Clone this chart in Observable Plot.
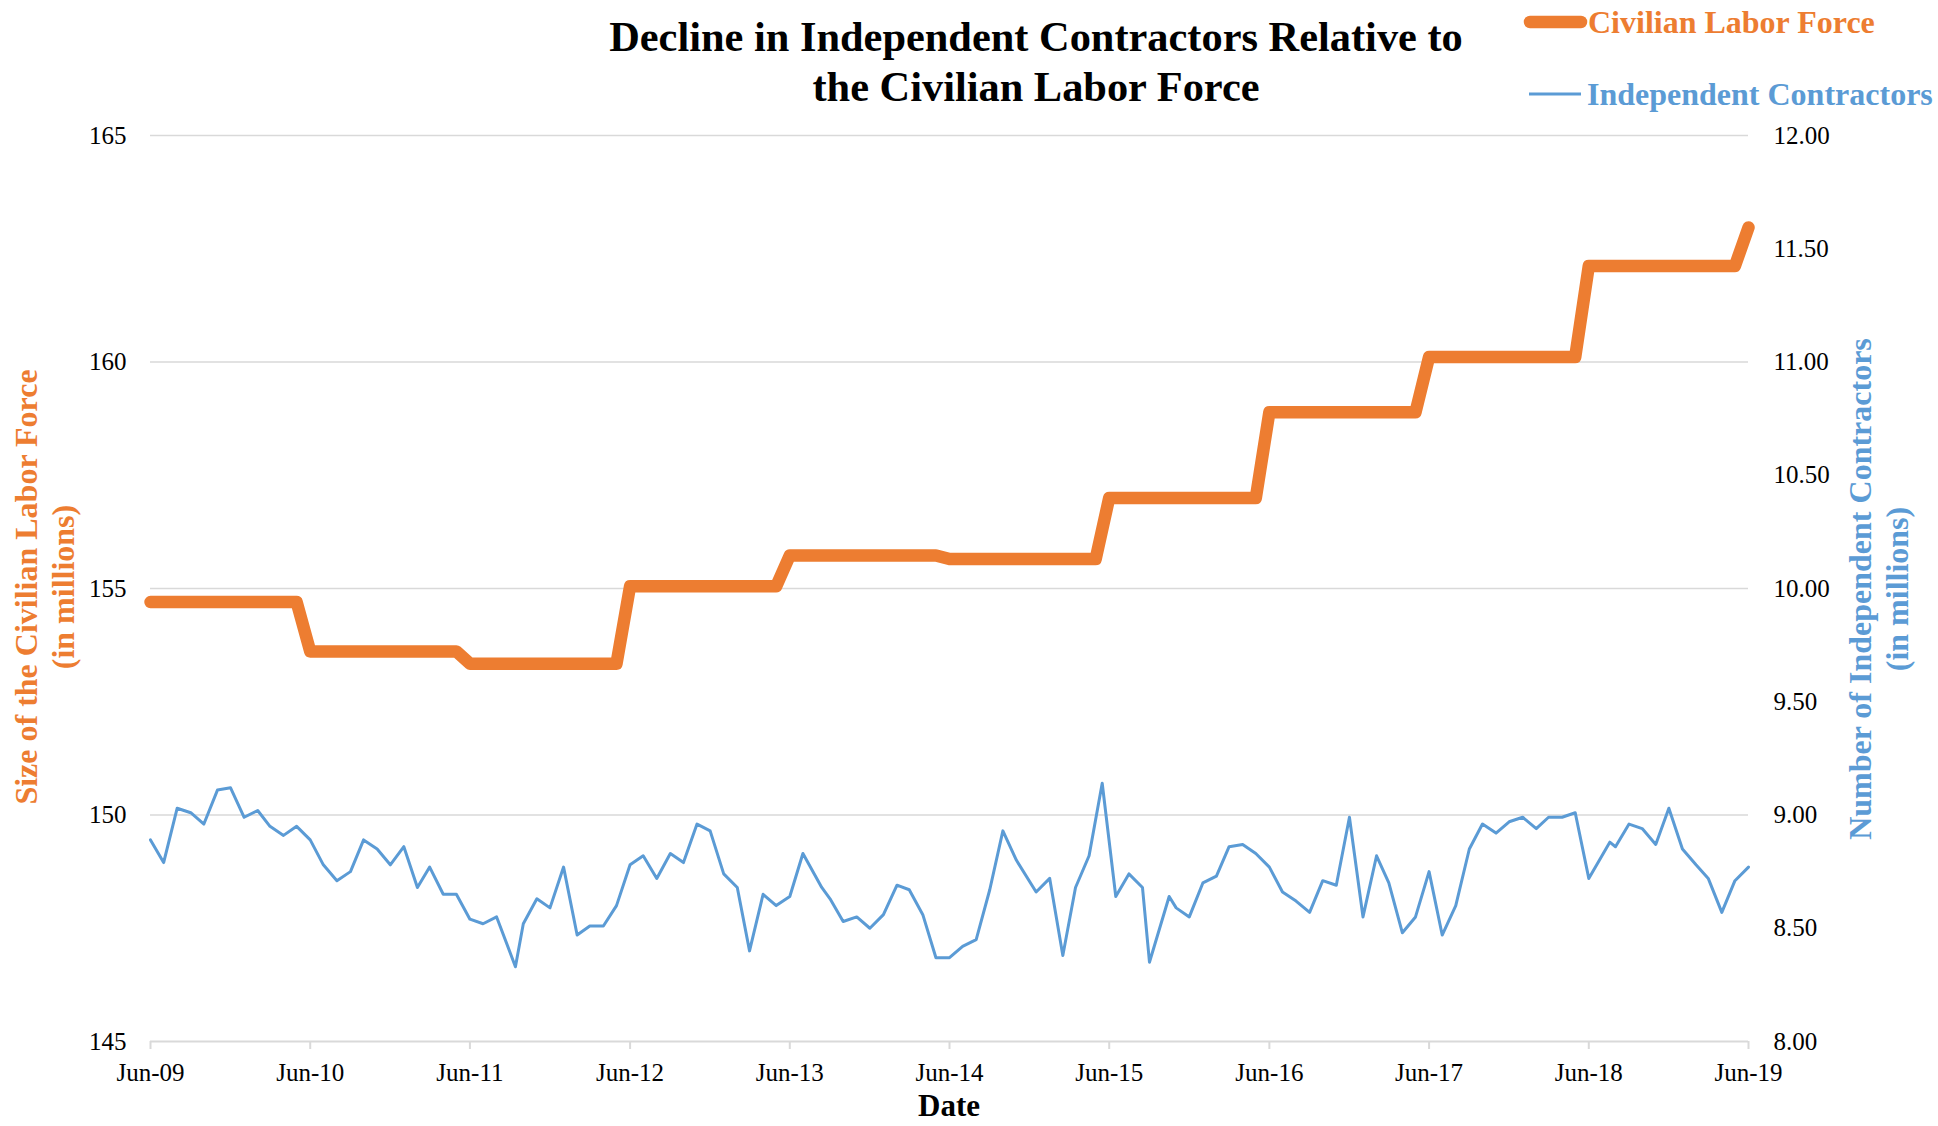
<!DOCTYPE html>
<html>
<head>
<meta charset="utf-8">
<script src="https://cdn.jsdelivr.net/npm/d3@7"></script>
<script src="https://cdn.jsdelivr.net/npm/@observablehq/plot@0.6"></script>
<style>
  html, body { margin: 0; padding: 0; background: #fff; }
  #wrap { position: relative; width: 1938px; height: 1126px; overflow: hidden; font-family: "Liberation Serif", "Times New Roman", serif; }
  #wrap svg.plot { position: absolute; left: 0; top: 0; }
  .title { position: absolute; left: 1036px; top: 12px; transform: translateX(-50%); font-size: 42.4px; font-weight: bold; line-height: 50px; text-align: center; white-space: nowrap; color: #000; }
  .ytitle { position: absolute; font-size: 32px; font-weight: bold; line-height: 37px; text-align: center; white-space: nowrap; transform: translate(-50%, -50%) rotate(-90deg); }
  .xtitle { position: absolute; left: 949px; top: 1106px; transform: translate(-50%, -50%); font-size: 31px; font-weight: bold; line-height: 22px; white-space: nowrap; color: #000; }
  .legtext { position: absolute; font-size: 32px; font-weight: bold; line-height: 37px; white-space: nowrap; transform: translateY(-50%); }
  #legendsvg { position: absolute; left: 0; top: 0; }
</style>
</head>
<body>
<div id="wrap"></div>
<script>
// ---- Data ----
const laborDates = [
  "2009-06-01","2010-05-01","2010-06-01","2011-05-01","2011-06-01","2012-05-01",
  "2012-06-01","2013-05-01","2013-06-01","2014-05-01","2014-06-01","2015-05-01",
  "2015-06-01","2016-05-01","2016-06-01","2017-05-01","2017-06-01","2018-05-01",
  "2018-06-01","2019-05-01","2019-06-01"
];
const laborValues = [
  154.70,154.70,153.61,153.61,153.34,153.34,
  155.05,155.05,155.73,155.73,155.65,155.65,
  157.00,157.00,158.89,158.89,160.11,160.11,
  162.12,162.12,162.97
];

const contractorDates = [
  "2009-06-01","2009-07-01","2009-08-01","2009-09-01","2009-10-01","2009-11-01","2009-12-01",
  "2010-01-01","2010-02-01","2010-03-01","2010-04-01","2010-05-01","2010-06-01","2010-07-01","2010-08-01","2010-09-01","2010-10-01","2010-11-01","2010-12-01",
  "2011-01-01","2011-02-01","2011-03-01","2011-04-01","2011-05-01","2011-06-01","2011-07-01","2011-08-01","2011-09-13","2011-10-01","2011-11-01","2011-12-01",
  "2012-01-01","2012-02-01","2012-03-01","2012-04-01","2012-05-01","2012-06-01","2012-07-01","2012-08-01","2012-09-01","2012-10-01","2012-11-01","2012-12-01",
  "2013-01-01","2013-02-01","2013-03-01","2013-04-01","2013-05-01","2013-06-01","2013-07-01","2013-08-13","2013-09-01","2013-10-01","2013-11-01","2013-12-01",
  "2014-01-01","2014-02-01","2014-03-01","2014-04-01","2014-05-01","2014-06-01","2014-07-01","2014-08-01","2014-09-01","2014-10-01","2014-11-01","2014-12-16",
  "2015-01-16","2015-02-15","2015-03-16","2015-04-16","2015-05-16","2015-06-16","2015-07-16","2015-08-16","2015-09-01","2015-10-16","2015-11-01","2015-12-01",
  "2016-01-01","2016-02-01","2016-03-01","2016-04-01","2016-05-01","2016-06-01","2016-07-01","2016-08-01","2016-09-01","2016-10-01","2016-11-01","2016-12-01",
  "2017-01-01","2017-02-01","2017-03-01","2017-04-01","2017-05-01","2017-06-01","2017-07-01","2017-08-01","2017-09-01","2017-10-01","2017-11-01","2017-12-01",
  "2018-01-01","2018-02-01","2018-03-01","2018-04-01","2018-05-01","2018-06-01","2018-07-19","2018-08-01","2018-09-01","2018-10-01","2018-11-01","2018-12-01",
  "2019-01-01","2019-02-01","2019-03-01","2019-04-01","2019-05-01","2019-06-01"
];
const contractorValues = [
  8.89,8.79,9.03,9.01,8.96,9.11,9.12,
  8.99,9.02,8.95,8.91,8.95,8.89,8.78,8.71,8.75,8.89,8.85,8.78,
  8.86,8.68,8.77,8.65,8.65,8.54,8.52,8.55,8.33,8.52,8.63,8.59,
  8.77,8.47,8.51,8.51,8.60,8.78,8.82,8.72,8.83,8.79,8.96,8.93,
  8.74,8.68,8.40,8.65,8.60,8.64,8.83,8.68,8.63,8.53,8.55,8.50,
  8.56,8.69,8.67,8.56,8.37,8.37,8.42,8.45,8.67,8.93,8.80,8.66,
  8.72,8.38,8.68,8.82,9.14,8.64,8.74,8.68,8.35,8.64,8.59,8.55,
  8.70,8.73,8.86,8.87,8.83,8.77,8.66,8.62,8.57,8.71,8.69,8.99,
  8.55,8.82,8.70,8.48,8.55,8.75,8.47,8.60,8.85,8.96,8.92,8.97,
  8.99,8.94,8.99,8.99,9.01,8.72,8.88,8.86,8.96,8.94,8.87,9.03,
  8.85,8.78,8.72,8.57,8.71,8.77
];

const xTickDates = ["2009-06-01","2010-06-01","2011-06-01","2012-06-01","2013-06-01","2014-06-01",
                    "2015-06-01","2016-06-01","2017-06-01","2018-06-01","2019-06-01"];
const leftTicks = [145, 150, 155, 160, 165];
const rightTicks = [8.00, 8.50, 9.00, 9.50, 10.00, 10.50, 11.00, 11.50, 12.00];
const gridTicks = [150, 155, 160, 165];

const titleLines = ["Decline in Independent Contractors Relative to", "the Civilian Labor Force"];
const seriesNames = ["Civilian Labor Force", "Independent Contractors"];
const leftTitle = ["Size of the Civilian Labor Force", "(in millions)"];
const rightTitle = ["Number of Independent Contractors", "(in millions)"];
const xTitle = "Date";

// ---- Build ----
const ORANGE = "#ED7D31", BLUE = "#5B9BD5", GRID = "#d9d9d9";
const parse = d3.utcParse("%Y-%m-%d");
const labor = laborDates.map((d, i) => ({date: parse(d), value: laborValues[i]}));
const contractors = contractorDates.map((d, i) => ({date: parse(d), value: contractorValues[i]}));
// right axis (8–12) mapped onto left axis (145–165)
const toLeft = v => 145 + (v - 8) * 5;
const toRight = y => (y - 145) / 5 + 8;

const chart = Plot.plot({
  width: 1938,
  height: 1126,
  marginLeft: 150,
  marginRight: 190,
  marginTop: 135,
  marginBottom: 85,
  x: {type: "utc", domain: [parse("2009-06-01"), parse("2019-06-01")]},
  y: {domain: [145, 165]},
  style: {fontFamily: "'Liberation Serif', 'Times New Roman', serif", fontSize: "25px", color: "#000", background: "transparent", overflow: "visible"},
  marks: [
    Plot.gridY(gridTicks, {stroke: GRID, strokeOpacity: 1, strokeWidth: 1.6}),
    Plot.ruleY([145], {stroke: GRID, strokeWidth: 2}),
    Plot.axisY(leftTicks, {anchor: "left", tickSize: 0, tickPadding: 24, label: null, fill: "#000", fontSize: 25}),
    Plot.axisY(rightTicks.map(toLeft), {anchor: "right", tickSize: 0, tickPadding: 25, label: null, fill: "#000", fontSize: 25,
      tickFormat: y => toRight(y).toFixed(2)}),
    Plot.axisX(xTickDates.map(parse), {anchor: "bottom", tickSize: 8, tickPadding: 14, stroke: GRID, strokeWidth: 2, fill: "#000",
      label: null, fontSize: 25, tickFormat: d3.utcFormat("%b-%y")}),
    Plot.line(labor, {x: "date", y: "value", stroke: ORANGE, strokeWidth: 12.5, strokeLinejoin: "round", strokeLinecap: "round"}),
    Plot.line(contractors, {x: "date", y: d => toLeft(d.value), stroke: BLUE, strokeWidth: 3, strokeLinejoin: "round"})
  ]
});

const wrap = document.getElementById("wrap");
wrap.appendChild(chart);

// Title
const t = document.createElement("div");
t.className = "title";
t.innerHTML = titleLines.join("<br>");
wrap.appendChild(t);

// Axis titles
function vtitle(lines, cx, cy, color) {
  const el = document.createElement("div");
  el.className = "ytitle";
  el.style.left = cx + "px";
  el.style.top = cy + "px";
  el.style.color = color;
  el.innerHTML = lines.join("<br>");
  wrap.appendChild(el);
}
vtitle(leftTitle, 44.5, 587, ORANGE);
vtitle(rightTitle, 1879, 589, BLUE);

const xt = document.createElement("div");
xt.className = "xtitle";
xt.textContent = xTitle;
wrap.appendChild(xt);

// Legend
const ns = "http://www.w3.org/2000/svg";
const lsvg = document.createElementNS(ns, "svg");
lsvg.setAttribute("id", "legendsvg");
lsvg.setAttribute("width", 1938);
lsvg.setAttribute("height", 130);
const legItems = [
  {name: seriesNames[0], color: ORANGE, width: 12.5, y: 22, x1: 1530, x2: 1581, tx: 1588},
  {name: seriesNames[1], color: BLUE, width: 3, y: 94, x1: 1529, x2: 1581, tx: 1587}
];
legItems.forEach(it => {
  const ln = document.createElementNS(ns, "line");
  ln.setAttribute("x1", it.x1); ln.setAttribute("x2", it.x2);
  ln.setAttribute("y1", it.y); ln.setAttribute("y2", it.y);
  ln.setAttribute("stroke", it.color);
  ln.setAttribute("stroke-width", it.width);
  ln.setAttribute("stroke-linecap", it.width > 5 ? "round" : "butt");
  lsvg.appendChild(ln);
  const tx = document.createElement("div");
  tx.className = "legtext";
  tx.style.left = it.tx + "px";
  tx.style.top = it.y + "px";
  tx.style.color = it.color;
  tx.textContent = it.name;
  wrap.appendChild(tx);
});
wrap.appendChild(lsvg);
</script>
</body>
</html>
